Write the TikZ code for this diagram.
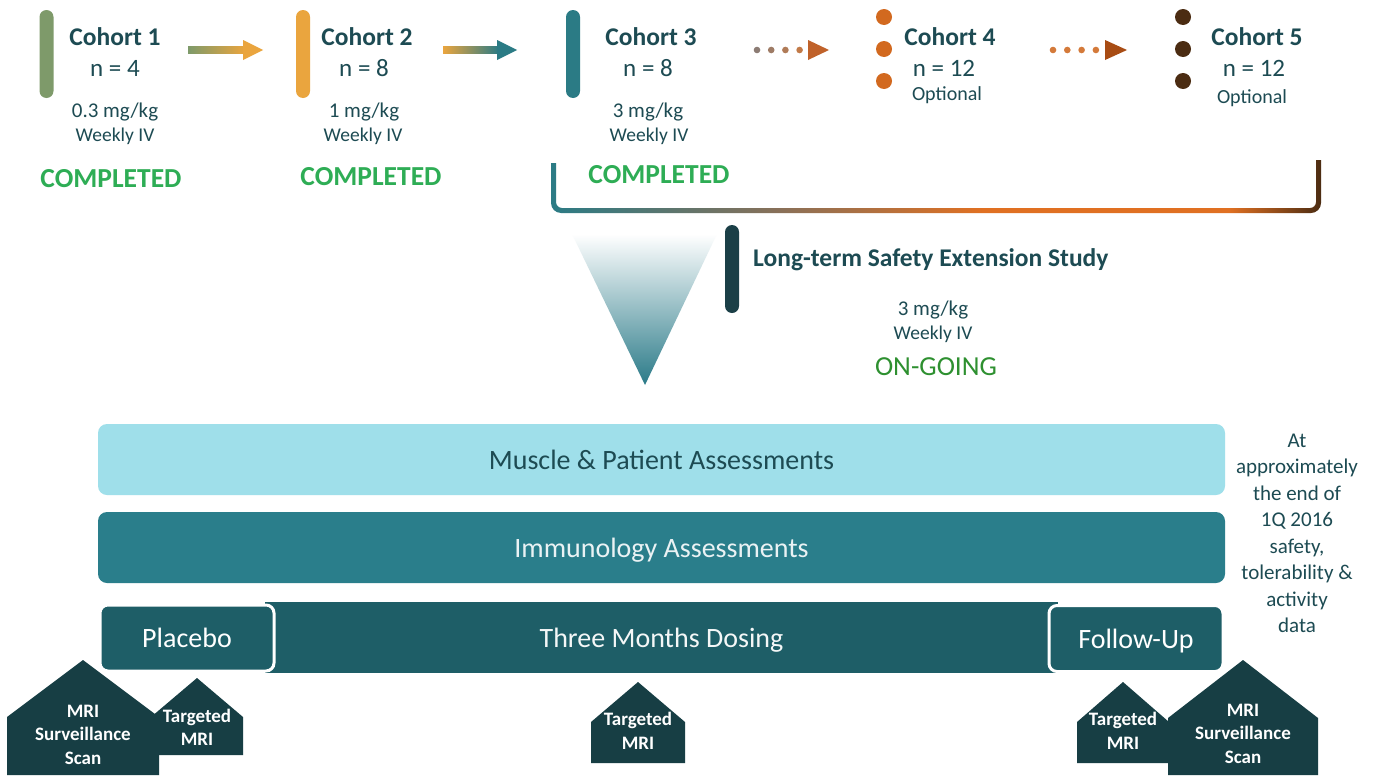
\documentclass[tikz,border=0pt]{standalone}
\usepackage{fontspec}
\setmainfont{Carlito}
\usetikzlibrary{calc}

\definecolor{ink}{HTML}{1D4B53}
\definecolor{okgreen}{HTML}{2EAD55}
\definecolor{ongreen}{HTML}{2E9030}
\definecolor{cone}{HTML}{7E9A6A}
\definecolor{ctwo}{HTML}{EAA53E}
\definecolor{cthree}{HTML}{2B7B85}
\definecolor{cfour}{HTML}{D2691F}
\definecolor{cfive}{HTML}{4B2C12}
\definecolor{dotgray}{HTML}{8C7C74}
\definecolor{dotorange}{HTML}{D47A3A}
\definecolor{headone}{HTML}{C0622A}
\definecolor{headtwo}{HTML}{A84C14}
\definecolor{ltsbar}{HTML}{1B3F47}
\definecolor{muscle}{HTML}{9FDFEA}
\definecolor{immuno}{HTML}{2A7E8B}
\definecolor{phasecol}{HTML}{1E5E67}
\definecolor{housecol}{HTML}{173E44}
\definecolor{brkmid}{HTML}{8A7058}
\definecolor{brkor}{HTML}{E07022}
\definecolor{conemid}{HTML}{8FD2DE}
\definecolor{conebot}{HTML}{2A7A88}

% colour run of the bracket under cohorts 3 to 5
\pgfdeclarehorizontalshading{bracketshade}{100bp}{%
  color(0bp)=(cthree); color(25bp)=(cthree); color(40bp)=(brkmid);
  color(53bp)=(brkor); color(69bp)=(brkor); color(75bp)=(cfive); color(100bp)=(cfive)}

\tikzset{
  cbar/.style={rounded corners=7pt, minimum width=14pt, minimum height=88pt, inner sep=0pt},
  ctitle/.style={font=\fontsize{25.5}{30}\selectfont\bfseries, text=ink, anchor=base, inner sep=0pt},
  cnum/.style={font=\fontsize{25}{30}\selectfont, text=ink, anchor=base, inner sep=0pt},
  cdose/.style={font=\fontsize{21}{25}\selectfont, text=ink, anchor=base, inner sep=0pt},
  cfreq/.style={font=\fontsize{19.5}{24}\selectfont, text=ink, anchor=base, inner sep=0pt},
  copt/.style={font=\fontsize{20}{24}\selectfont, text=ink, anchor=base, inner sep=0pt},
  donelabel/.style={font=\fontsize{27.5}{32}\selectfont\bfseries, text=okgreen, anchor=base, inner sep=0pt},
  band/.style={rounded corners=9pt, minimum width=1127pt, minimum height=71pt, inner sep=0pt,
    font=\fontsize{28}{32}\selectfont, text height=19pt, text depth=0pt},
  phase/.style={fill=phasecol, draw=white, line width=3pt, rounded corners=8pt, minimum height=66pt,
    inner sep=0pt, text=white, font=\fontsize{28}{32}\selectfont, text height=19pt, text depth=0pt},
  housefill/.style={fill=housecol},
  htext/.style={text=white, font=\fontsize{19}{23.5}\selectfont\bfseries, align=center, anchor=base, inner sep=0pt},
  dotmark/.style={circle, inner sep=0pt, minimum size=16pt},
}

\begin{document}
\begin{tikzpicture}[x=1pt, y=-1pt]
\useasboundingbox[fill=white] (0,0) rectangle (1380,779);

% ---------- cohorts ----------
\node[cbar, fill=cone]   (c1bar) at (46.5,54) {};
\node[cbar, fill=ctwo]   (c2bar) at (303,54) {};
\node[cbar, fill=cthree] (c3bar) at (573,54) {};

\node[ctitle] (c1t) at (115,45) {Cohort 1};
\node[cnum]   (c1n) at (115,76) {n = 4};
\node[cdose]  (c1d) at (115,117) {0.3 mg/kg};
\node[cfreq]  (c1f) at (115,141) {Weekly IV};
\node[donelabel] (c1s) at (111,187) {COMPLETED};

\node[ctitle] (c2t) at (367,45) {Cohort 2};
\node[cnum]   (c2n) at (364,76) {n = 8};
\node[cdose]  (c2d) at (364,117) {1 mg/kg};
\node[cfreq]  (c2f) at (363,141) {Weekly IV};
\node[donelabel] (c2s) at (371,185) {COMPLETED};

\node[ctitle] (c3t) at (651,45) {Cohort 3};
\node[cnum]   (c3n) at (648,76) {n = 8};
\node[cdose]  (c3d) at (648,117) {3 mg/kg};
\node[cfreq]  (c3f) at (649,141) {Weekly IV};
\node[donelabel] (c3s) at (659,183) {COMPLETED};

\foreach \yy [count=\k] in {17,49,81} {
  \node[dotmark, fill=cfour] (c4dot\k) at (884,\yy) {};
  \node[dotmark, fill=cfive] (c5dot\k) at (1183,\yy) {};
}
\node[ctitle] (c4t) at (950,45) {Cohort 4};
\node[cnum]   (c4n) at (944,76) {n = 12};
\node[copt]   (c4o) at (947,100) {Optional};

\node[ctitle] (c5t) at (1257,45) {Cohort 5};
\node[cnum]   (c5n) at (1254,76) {n = 12};
\node[copt]   (c5o) at (1252,103) {Optional};

% ---------- arrows between cohorts ----------
\coordinate (a1s) at (188,50);  \coordinate (a1e) at (263,50);
\coordinate (a2s) at (443,50);  \coordinate (a2e) at (517,50);
\coordinate (a3s) at (757,50);  \coordinate (a3e) at (829,50);
\coordinate (a4s) at (1053,50); \coordinate (a4e) at (1127,50);

\shade[left color=cone, right color=ctwo] ($(a1s)+(0,-3.5)$) rectangle ($(a1e)+(-18,3.5)$);
\fill[ctwo] ($(a1e)+(-20,-10)$) -- (a1e) -- ($(a1e)+(-20,10)$) -- cycle;

\shade[left color=ctwo, right color=cthree] ($(a2s)+(0,-3.5)$) rectangle ($(a2e)+(-18,3.5)$);
\fill[cthree] ($(a2e)+(-20,-10)$) -- (a2e) -- ($(a2e)+(-20,10)$) -- cycle;

\foreach \i in {0,1,2,3} {
  \pgfmathsetmacro{\mixv}{100-\i*25}
  \fill[dotgray!\mixv!dotorange] ($(a3s)+(\i*14.2,0)$) circle (3.3);
  \fill[dotorange] ($(a4s)+(\i*14.3,0)$) circle (3.3);
}
\fill[headone] ($(a3e)+(-21,-10)$) -- (a3e) -- ($(a3e)+(-21,10)$) -- cycle;
\fill[headtwo] ($(a4e)+(-22,-10)$) -- (a4e) -- ($(a4e)+(-22,10)$) -- cycle;

% ---------- bracket under cohorts 3 to 5 ----------
\shade[shading=bracketshade]
  (551,163) {[rounded corners=10pt] -- (551,213) -- (1321,213)} -- (1321,160)
  -- (1316,160) {[rounded corners=6pt] -- (1316,208) -- (556,208)} -- (556,163) -- cycle;

% ---------- funnel and extension study ----------
\shade[top color=white, middle color=conemid, bottom color=conebot]
  (572,234) -- (717,234) -- (645,385) -- cycle;

\node[cbar, fill=ltsbar] (ltsbar) at (732,269) {};
\node[ctitle, anchor=base west] (ltst) at (753,266) {Long-term Safety Extension Study};
\node[cdose] (ltsd) at (933,315) {3 mg/kg};
\node[cfreq] (ltsf) at (933,339) {Weekly IV};
\node[font=\fontsize{27.5}{32}\selectfont, text=ongreen, anchor=base, inner sep=0pt] (ltss) at (936,375) {ON-GOING};

% ---------- study bands ----------
\node[band, fill=muscle, text=ink] (muscle) at (661.5,459.5) {Muscle \& Patient Assessments};
\node[band, fill=immuno, text=white!90!immuno] (immuno) at (661.5,547.5) {Immunology Assessments};

\node[fill=phasecol, minimum width=793pt, minimum height=71pt, inner sep=0pt, text=white!95!phasecol,
      font=\fontsize{28}{32}\selectfont, text height=19pt, text depth=0pt] (dosing) at (661.5,637.5) {Three Months Dosing};
\node[phase, minimum width=174pt] (placebo) at (187,638) {Placebo};
\node[phase, minimum width=174pt] (follow) at (1136,638.5) {Follow-Up};

% multi-line nodes are placed by the baseline of their last line
\node[font=\fontsize{21}{26.5}\selectfont, text=ink, align=center, anchor=base, inner sep=0pt] (note) at (1297,632.5)
  {At\\approximately\\the end of\\1Q 2016\\safety,\\tolerability \&\\activity\\data};

% ---------- MRI markers ----------
\fill[housefill] (151,755) -- (151,717) -- (197,678) -- (243,717) -- (243,755) -- cycle;
\fill[housefill] (7,775) -- (7,717) -- (83,660) -- (159,717) -- (159,775) -- cycle;
\fill[housefill] (591,763) -- (591,722) -- (638,682) -- (685,722) -- (685,763) -- cycle;
\fill[housefill] (1077,763) -- (1077,722) -- (1123,682) -- (1169,722) -- (1169,763) -- cycle;
\fill[housefill] (1168,775) -- (1168,718) -- (1243,660) -- (1318,718) -- (1318,775) -- cycle;

\node[htext] (mriL)  at (83,764)   {MRI\\Surveillance\\Scan};
\node[htext] (tgtL)  at (197,745.5) {Targeted\\MRI};
\node[htext] (tgtM)  at (638,749)  {Targeted\\MRI};
\node[htext] (tgtR)  at (1123,749) {Targeted\\MRI};
\node[htext] (mriR)  at (1243,763) {MRI\\Surveillance\\Scan};
\end{tikzpicture}
\end{document}
